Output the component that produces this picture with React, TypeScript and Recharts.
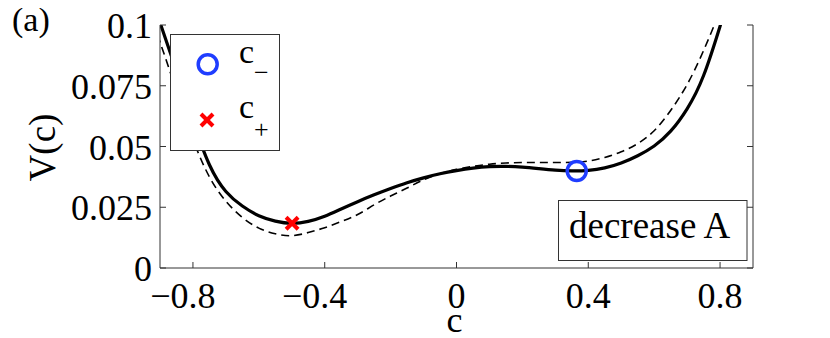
import React from 'react';
import { ComposedChart, Line, Scatter, XAxis, YAxis, Legend } from 'recharts';

// ---- data ----
const solidC = [-0.92, -0.9, -0.85, -0.8, -0.75, -0.7, -0.65, -0.6, -0.55, -0.5, -0.45, -0.4, -0.35, -0.3, -0.25, -0.2, -0.15, -0.1, -0.05, 0, 0.05, 0.1, 0.15, 0.2, 0.25, 0.3, 0.35, 0.4, 0.45, 0.5, 0.55, 0.6, 0.65, 0.7, 0.75, 0.8, 0.83];
const solidV = [0.109, 0.101, 0.081, 0.0605, 0.0425, 0.0315, 0.0255, 0.0215, 0.0193, 0.0184, 0.0192, 0.0213, 0.0243, 0.0273, 0.0301, 0.0327, 0.0351, 0.0371, 0.0388, 0.0401, 0.0411, 0.0417, 0.0418, 0.0415, 0.0409, 0.0403, 0.04, 0.0402, 0.0412, 0.0432, 0.0462, 0.0502, 0.0563, 0.0655, 0.0792, 0.0995, 0.113];

const dashC = [-0.92, -0.9, -0.85, -0.8, -0.75, -0.7, -0.65, -0.6, -0.55, -0.5, -0.45, -0.4, -0.35, -0.3, -0.25, -0.2, -0.15, -0.1, -0.05, 0, 0.05, 0.1, 0.15, 0.2, 0.25, 0.3, 0.35, 0.4, 0.45, 0.5, 0.55, 0.6, 0.65, 0.7, 0.75, 0.8, 0.82];
const dashV = [0.101, 0.093, 0.073, 0.053, 0.0375, 0.0275, 0.0208, 0.0164, 0.0141, 0.0133, 0.0146, 0.0166, 0.0191, 0.022, 0.026, 0.0296, 0.0329, 0.0363, 0.0388, 0.0406, 0.0418, 0.0427, 0.0432, 0.0434, 0.0434, 0.0434, 0.0435, 0.044, 0.0455, 0.0478, 0.0512, 0.0565, 0.0648, 0.0755, 0.0895, 0.106, 0.114];

const cMinus = [{ c: 0.365, v: 0.0399 }];
const cPlus = [{ c: -0.499, v: 0.0184 }];

const xTicks = [-0.8, -0.4, 0, 0.4, 0.8];
const yTicks = [0, 0.025, 0.05, 0.075, 0.1];
const xDomain = [-0.9, 0.9];
const yDomain = [0, 0.1];

const solidData = solidC.map((c, i) => ({ c, v: solidV[i] }));
const dashData = dashC.map((c, i) => ({ c, v: dashV[i] }));

const FONT = "'Liberation Serif', 'DejaVu Serif', serif";
const serif = (size: number) => ({ fontFamily: FONT, fontSize: size });
const AXIS = '#333';
const BLUE = '#1f3dff';
const RED = '#ff0000';
const TL = 6;

const fmtX = (v: number) => (v < 0 ? '\u2212' + String(Math.abs(v)) : String(v));

const BottomTick = (p: any) => {
  const { x, y, payload } = p;
  const v = payload.value;
  return (
    <g>
      <line x1={x} y1={y} x2={x} y2={y - TL} stroke={AXIS} strokeWidth={1} />
      <text x={x} y={y + 40} dx={v < 0 ? '-0.282em' : 0} textAnchor="middle" style={serif(36)} fill="#000">
        {fmtX(v)}
      </text>
    </g>
  );
};
const TopTick = (p: any) => {
  const { x, y } = p;
  return <line x1={x} y1={y} x2={x} y2={y + TL} stroke={AXIS} strokeWidth={1} />;
};
const LeftTick = (p: any) => {
  const { x, y, payload } = p;
  return (
    <g>
      <line x1={x} y1={y} x2={x + TL} y2={y} stroke={AXIS} strokeWidth={1} />
      <text x={x - 8} y={y + 13} textAnchor="end" style={serif(36)} fill="#000">
        {String(payload.value)}
      </text>
    </g>
  );
};
const RightTick = (p: any) => {
  const { x, y } = p;
  return <line x1={x} y1={y} x2={x - TL} y2={y} stroke={AXIS} strokeWidth={1} />;
};

const CircleShape = (p: any) => (
  <circle cx={p.cx} cy={p.cy} r={9.5} fill="none" stroke={BLUE} strokeWidth={3.5} />
);
const CrossShape = (p: any) => (
  <g stroke={RED} strokeWidth={4}>
    <line x1={p.cx - 6} y1={p.cy - 6} x2={p.cx + 6} y2={p.cy + 6} />
    <line x1={p.cx - 6} y1={p.cy + 6} x2={p.cx + 6} y2={p.cy - 6} />
  </g>
);

const LegendBox = () => (
  <div style={{ width: 108, height: 115, border: `1px solid ${AXIS}`, background: '#fff', boxSizing: 'content-box' }}>
    <svg width={108} height={115} style={{ display: 'block', overflow: 'visible' }}>
      <circle cx={36.7} cy={29.3} r={9.5} fill="none" stroke={BLUE} strokeWidth={3.5} />
      <text x={68} y={27.7} style={serif(34)} fill="#000">c</text>
      <text x={83} y={46} style={serif(26)} fill="#000">{'\u2212'}</text>
      <g stroke={RED} strokeWidth={4}>
        <line x1={30} y1={79} x2={42} y2={91} />
        <line x1={30} y1={91} x2={42} y2={79} />
      </g>
      <text x={68} y={82.7} style={serif(34)} fill="#000">c</text>
      <text x={83} y={103} style={serif(26)} fill="#000">+</text>
    </svg>
  </div>
);

export default function App() {
  return (
    <div style={{ position: 'relative', width: 822, height: 330, fontFamily: FONT }}>
      <ComposedChart width={822} height={330} margin={{ top: 17, right: 0, bottom: 0, left: 0 }}>
        <XAxis
          xAxisId="b"
          type="number"
          dataKey="c"
          domain={xDomain}
          ticks={xTicks}
          allowDataOverflow
          height={70}
          tickLine={false}
          tickSize={0}
          tickMargin={0}
          tick={<BottomTick />}
          axisLine={{ stroke: AXIS, strokeWidth: 1 }}
          label={{
            content: (lp: any) => {
              const vb = lp.viewBox || { x: 152, y: 260, width: 593 };
              return (
                <text x={vb.x + vb.width / 2 - 2} y={vb.y + 64} textAnchor="middle" style={serif(36)} fill="#000">
                  c
                </text>
              );
            },
          }}
        />
        <XAxis
          xAxisId="t"
          orientation="top"
          type="number"
          domain={xDomain}
          ticks={xTicks}
          allowDataOverflow
          height={0}
          tickLine={false}
          tickSize={0}
          tickMargin={0}
          tick={<TopTick />}
          axisLine={{ stroke: AXIS, strokeWidth: 1 }}
        />
        <YAxis
          yAxisId="l"
          type="number"
          domain={yDomain}
          ticks={yTicks}
          allowDataOverflow
          width={152}
          tickLine={false}
          tickSize={0}
          tickMargin={0}
          tick={<LeftTick />}
          axisLine={{ stroke: AXIS, strokeWidth: 1 }}
          label={{
            content: (lp: any) => {
              const vb = lp.viewBox || { x: 0, y: 17, height: 243 };
              const cx = 35;
              const cy = vb.y + vb.height / 2 + 1;
              return (
                <text x={cx} y={cy} transform={`rotate(-90 ${cx} ${cy})`} textAnchor="middle" dy="0.33em" style={serif(37)} fill="#000">
                  V(c)
                </text>
              );
            },
          }}
        />
        <YAxis
          yAxisId="r"
          orientation="right"
          type="number"
          domain={yDomain}
          ticks={yTicks}
          allowDataOverflow
          width={77}
          tickLine={false}
          tickSize={0}
          tickMargin={0}
          tick={<RightTick />}
          axisLine={{ stroke: AXIS, strokeWidth: 1 }}
        />
        <Line
          xAxisId="b"
          yAxisId="l"
          data={dashData}
          dataKey="v"
          type="natural"
          stroke="#000"
          strokeWidth={1.6}
          strokeDasharray="8 5"
          dot={false}
          isAnimationActive={false}
        />
        <Line
          xAxisId="b"
          yAxisId="l"
          data={solidData}
          dataKey="v"
          type="natural"
          stroke="#000"
          strokeWidth={3.2}
          dot={false}
          isAnimationActive={false}
        />
        <Scatter xAxisId="b" yAxisId="l" data={cMinus} dataKey="v" shape={<CircleShape />} isAnimationActive={false} />
        <Scatter xAxisId="b" yAxisId="l" data={cPlus} dataKey="v" shape={<CrossShape />} isAnimationActive={false} />
        <Legend
          layout="vertical"
          align="center"
          verticalAlign="middle"
          content={() => <LegendBox />}
          wrapperStyle={{ left: 162, top: 26, width: 'auto', height: 'auto' }}
        />
      </ComposedChart>
      <svg width={822} height={330} style={{ position: 'absolute', left: 0, top: 0, pointerEvents: 'none', overflow: 'visible' }}>
        <text x={4} y={23} style={serif(34)} fill="#000">(a)</text>
        <rect x={550.5} y={192.5} width={188.5} height={60} fill="#fff" stroke={AXIS} strokeWidth={1} />
        <text x={561} y={230} style={serif(37)} fill="#000">decrease A</text>
      </svg>
    </div>
  );
}
